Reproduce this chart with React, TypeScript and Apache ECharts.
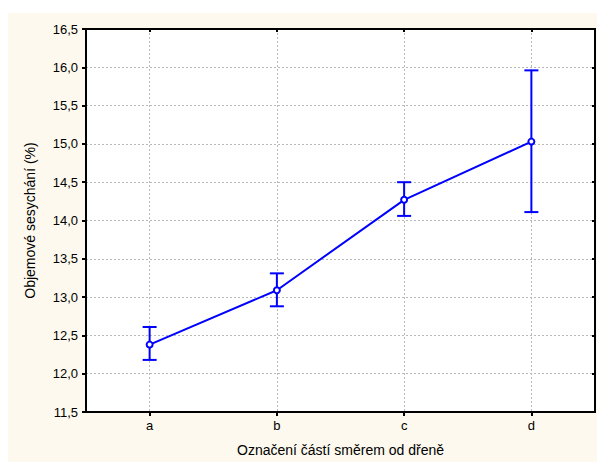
import React, { useEffect, useRef } from "react";
import * as echarts from "echarts";

const categories = ["a", "b", "c", "d"];
const means = [12.38, 13.09, 14.27, 15.03];
const lower = [12.18, 12.88, 14.06, 14.11];
const upper = [12.61, 13.31, 14.5, 15.96];

const BLUE = "#0000FF";
const FONT = "'Liberation Sans', Arial, sans-serif";

export default function App() {
  const ref = useRef<HTMLDivElement>(null);
  useEffect(() => {
    if (!ref.current) return;
    const chart = echarts.init(ref.current, undefined, { renderer: "svg" });
    const fmt = (v: number) => v.toFixed(1).replace(".", ",");
    const gridLine = { show: true, lineStyle: { color: "#b8b8b8", type: [2, 2] as any, width: 1 } };
    const option: any = {
      animation: false,
      backgroundColor: "transparent",
      textStyle: { fontFamily: FONT },
      grid: {
        left: 86,
        top: 29,
        right: 2,
        bottom: 49,
        show: true,
        backgroundColor: "#ffffff",
        borderColor: "#000",
        borderWidth: 2,
      },
      xAxis: [
        {
          type: "category",
          data: categories,
          boundaryGap: true,
          position: "bottom",
          name: "Označení částí směrem od dřeně",
          nameLocation: "middle",
          nameGap: 31,
          nameTextStyle: { fontSize: 14, color: "#000", fontFamily: FONT },
          axisLine: { show: true, lineStyle: { color: "#000", width: 2 } },
          axisTick: { show: true, alignWithLabel: true, inside: false, length: 4, lineStyle: { color: "#000", width: 2 } },
          axisLabel: { fontSize: 13, color: "#000", margin: 7, fontFamily: FONT },
          splitLine: { ...gridLine, alignWithLabel: true },
        },
        {
          type: "category",
          data: categories,
          boundaryGap: true,
          position: "top",
          axisLine: { show: true, lineStyle: { color: "#000", width: 2 } },
          axisTick: { show: true, alignWithLabel: true, inside: true, length: 3, lineStyle: { color: "#000", width: 2 } },
          axisLabel: { show: false },
          splitLine: { show: false },
        },
      ],
      yAxis: [
        {
          type: "value",
          min: 11.5,
          max: 16.5,
          interval: 0.5,
          position: "left",
          name: "Objemové sesychání (%)",
          nameLocation: "middle",
          nameRotate: 90,
          nameGap: 49,
          nameTextStyle: { fontSize: 14, color: "#000", fontFamily: FONT },
          axisLine: { show: true, lineStyle: { color: "#000", width: 2 } },
          axisTick: { show: true, inside: false, length: 4, lineStyle: { color: "#000", width: 2 } },
          axisLabel: { fontSize: 13, color: "#000", margin: 8, formatter: fmt, fontFamily: FONT },
          splitLine: gridLine,
        },
        {
          type: "value",
          min: 11.5,
          max: 16.5,
          interval: 0.5,
          position: "right",
          axisLine: { show: true, lineStyle: { color: "#000", width: 2 } },
          axisTick: { show: true, inside: true, length: 3, lineStyle: { color: "#000", width: 2 } },
          axisLabel: { show: false },
          splitLine: { show: false },
        },
      ],
      series: [
        {
          type: "custom",
          xAxisIndex: 0,
          yAxisIndex: 0,
          z: 3,
          data: categories.map((c, i) => [i, lower[i], upper[i]]),
          renderItem: (params: any, api: any) => {
            const x = api.value(0);
            const lo = api.coord([x, api.value(1)]);
            const hi = api.coord([x, api.value(2)]);
            const hw = 7;
            const style = { stroke: BLUE, lineWidth: 2 };
            return {
              type: "group",
              children: [
                { type: "line", shape: { x1: lo[0], y1: lo[1], x2: hi[0], y2: hi[1] }, style },
                { type: "line", shape: { x1: lo[0] - hw, y1: lo[1], x2: lo[0] + hw, y2: lo[1] }, style },
                { type: "line", shape: { x1: hi[0] - hw, y1: hi[1], x2: hi[0] + hw, y2: hi[1] }, style },
              ],
            };
          },
        },
        {
          type: "line",
          xAxisIndex: 0,
          yAxisIndex: 0,
          z: 4,
          data: means,
          symbol: "emptyCircle",
          symbolSize: 6,
          showSymbol: true,
          lineStyle: { color: BLUE, width: 2 },
          itemStyle: { color: BLUE, borderColor: BLUE, borderWidth: 1.5 },
        },
      ],
    };
    chart.setOption(option);
    return () => chart.dispose();
  }, []);
  return (
    <div style={{ position: "absolute", left: 0, top: 0, width: 597, height: 462, background: "#ffffff" }}>
      <div style={{ position: "absolute", left: 8, top: 13, width: 589, height: 449, background: "#FDF9EE" }} />
      <div ref={ref} style={{ position: "absolute", left: 0, top: 0, width: 597, height: 462 }} />
    </div>
  );
}
